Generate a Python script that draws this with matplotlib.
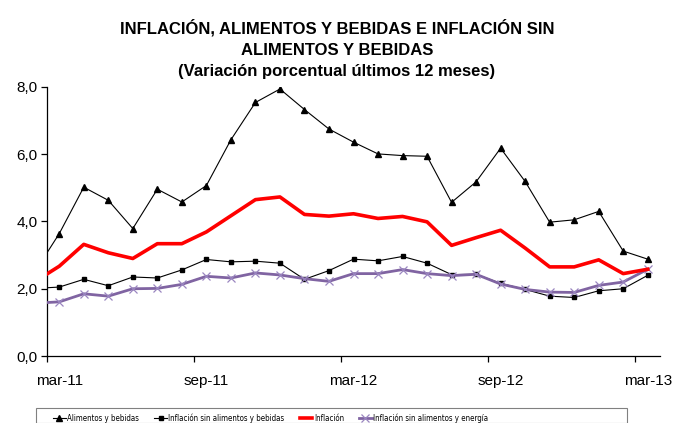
import matplotlib
matplotlib.use("Agg")
import matplotlib.pyplot as plt
from matplotlib.patches import Rectangle
from matplotlib.ticker import FixedLocator, FuncFormatter

plt.rcParams['font.family'] = ['Liberation Sans', 'DejaVu Sans']

# Months mar-11 .. mar-13 (25 points); first value is where the line enters the plot edge
months = ['mar-11', 'abr-11', 'may-11', 'jun-11', 'jul-11', 'ago-11', 'sep-11', 'oct-11',
          'nov-11', 'dic-11', 'ene-12', 'feb-12', 'mar-12', 'abr-12', 'may-12', 'jun-12',
          'jul-12', 'ago-12', 'sep-12', 'oct-12', 'nov-12', 'dic-12', 'ene-13', 'feb-13',
          'mar-13']
tick_labels = ['mar-11', 'sep-11', 'mar-12', 'sep-12', 'mar-13']

edge_alimentos = 3.07
alimentos = [3.64, 5.02, 4.63, 3.79, 4.96, 4.58, 5.07, 6.43, 7.54, 7.94, 7.33, 6.75, 6.36,
             6.01, 5.96, 5.94, 4.57, 5.18, 6.18, 5.19, 3.98, 4.05, 4.30, 3.12, 2.88]

edge_sin_ab = 2.03
sin_ab = [2.05, 2.28, 2.09, 2.35, 2.32, 2.56, 2.87, 2.80, 2.82, 2.76, 2.28, 2.54, 2.88,
          2.83, 2.96, 2.76, 2.42, 2.43, 2.16, 1.98, 1.78, 1.74, 1.94, 2.00, 2.40]

edge_inflacion = 2.44
inflacion = [2.67, 3.32, 3.07, 2.90, 3.34, 3.34, 3.69, 4.17, 4.65, 4.73, 4.21, 4.16, 4.23,
             4.09, 4.15, 3.99, 3.29, 3.52, 3.74, 3.21, 2.65, 2.65, 2.86, 2.45, 2.58]

edge_sin_ae = 1.59
sin_ae = [1.61, 1.85, 1.78, 2.00, 2.01, 2.13, 2.37, 2.32, 2.47, 2.41, 2.30, 2.22, 2.45,
          2.45, 2.57, 2.45, 2.39, 2.43, 2.14, 1.98, 1.90, 1.89, 2.10, 2.20, 2.58]

x = [-0.5] + list(range(len(months)))
marks = list(range(1, len(x)))

fig = plt.figure(figsize=(6.74, 4.23), dpi=100)
ax = fig.add_axes([47 / 674, 67 / 423, 613 / 674, 269 / 423])

purple = '#8064A2'
ax.plot(x, [edge_alimentos] + alimentos, color='black', lw=0.8, marker='^', ms=5,
        markevery=marks, label='Alimentos y bebidas', zorder=3)
ax.plot(x, [edge_sin_ab] + sin_ab, color='black', lw=0.8, marker='s', ms=3.2,
        markevery=marks, label='Inflación sin alimentos y bebidas', zorder=3)
ax.plot(x, [edge_inflacion] + inflacion, color='#FF0000', lw=2.6,
        label='Inflación', zorder=4)
ax.plot(x, [edge_sin_ae] + sin_ae, color=purple, lw=2.0, marker='x', ms=6, mew=0.9,
        markeredgecolor='#9A86C0', markevery=marks,
        label='Inflación sin alimentos y energía', zorder=3)

ax.set_xlim(-0.5, len(months) - 0.5)
ax.set_ylim(0, 8)

ax.spines['top'].set_visible(False)
ax.spines['right'].set_visible(False)
ax.spines['left'].set_linewidth(0.9)
ax.spines['bottom'].set_linewidth(0.9)

ax.yaxis.set_major_locator(FixedLocator([0, 2, 4, 6, 8]))
ax.yaxis.set_major_formatter(FuncFormatter(lambda v, p: f'{v:.1f}'.replace('.', ',')))
ax.tick_params(axis='y', direction='out', length=4, width=0.9, labelsize=11, pad=3)

label_pos = [months.index(m) for m in tick_labels]
ax.set_xticks(label_pos)
ax.set_xticklabels(tick_labels, fontsize=11)
ax.tick_params(axis='x', which='major', length=0, pad=13)
ax.set_xticks([p - 0.5 for p in label_pos], minor=True)
ax.tick_params(axis='x', which='minor', direction='out', length=4, width=0.9)

fig.text(0.5, 1 - 49 / 423,
         'INFLACIÓN, ALIMENTOS Y BEBIDAS E INFLACIÓN SIN\nALIMENTOS Y BEBIDAS\n'
         '(Variación porcentual últimos 12 meses)',
         ha='center', va='center', fontsize=12, fontweight='bold', linespacing=1.55)

# legend box like Excel: fixed frame, entries packed to the left
fig.patches.append(Rectangle((36 / 674, 0), 591 / 674, 1 - 408 / 423,
                             transform=fig.transFigure, fill=False,
                             edgecolor='#808080', lw=0.8))
leg = fig.legend(loc='center left', bbox_to_anchor=(53 / 674, 1 - 418 / 423), ncol=4,
                 frameon=False, handlelength=1.6, handletextpad=0.2,
                 columnspacing=1.9, borderpad=0, borderaxespad=0,
                 prop={'family': 'DejaVu Sans', 'stretch': 'condensed', 'size': 5.7})

fig.savefig('out.png', dpi=100)
